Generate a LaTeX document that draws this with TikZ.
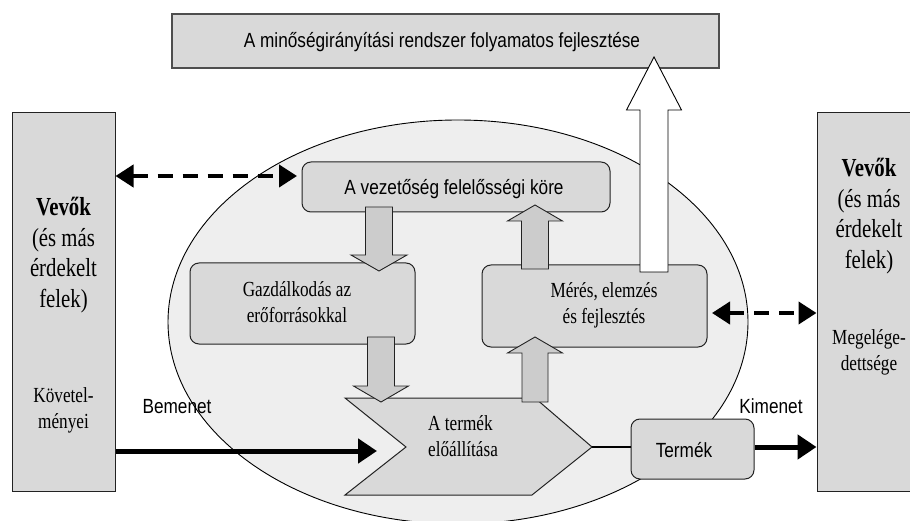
\documentclass[tikz,border=0pt]{standalone}
\usepackage{fontspec}
\setmainfont{Liberation Serif}[FakeStretch=0.8]
\newfontfamily\arialc{Liberation Sans}[FakeStretch=0.84]
\usetikzlibrary{arrows.meta,shapes.geometric}

\definecolor{boxgray}{HTML}{D9D9D9}
\definecolor{ovalgray}{HTML}{EEEEEE}
\definecolor{flowgray}{HTML}{CCCCCC}
\definecolor{edge}{HTML}{222222}

% broad block arrow: [style] x, tail y, head base y, tip y, half shaft, half head
\newcommand\flowarrow[7][]{%
  \filldraw[#1] (#2-#6,#3) -- (#2-#6,#4) -- (#2-#7,#4) -- (#2,#5)
    -- (#2+#7,#4) -- (#2+#6,#4) -- (#2+#6,#3) -- cycle;}

\tikzset{
  sidebox/.style={draw=edge, fill=boxgray, line width=1pt, inner sep=0pt},
  headbox/.style={draw=edge!80, fill=boxgray, line width=1.2pt, inner sep=0pt},
  procbox/.style={draw=edge, fill=boxgray, line width=1pt, rounded corners=9pt, inner sep=0pt},
  flowfill/.style={draw=edge, fill=flowgray, line width=0.9pt},
  bigarrow/.style={draw=black, fill=white, line width=0.9pt},
  sanslabel/.style={font=\arialc\fontsize{20.5}{24}\selectfont, inner sep=0pt, anchor=base},
  bigserif/.style={font=\fontsize{26}{30.5}\selectfont, align=center, inner sep=0pt},
  smallserif/.style={font=\fontsize{21.5}{26}\selectfont, align=center, inner sep=0pt},
  dasharrow/.style={{Triangle[length=18pt,width=22pt]}-{Triangle[length=18pt,width=22pt]},
    line width=4pt, dash pattern=on 15pt off 10pt},
  thickarrow/.style={-{Triangle[length=19pt,width=24pt]}, line width=5pt},
}

\begin{document}
\begin{tikzpicture}[x=1pt,y=-1pt]
\path[use as bounding box] (0,0) rectangle (910,521);

% organisation oval
\node[ellipse, draw=black, fill=ovalgray, line width=0.9pt, minimum width=580pt,
      minimum height=404pt, inner sep=0pt] (org) at (458,322) {};

% customers on both sides
\node[sidebox, minimum width=103pt, minimum height=378pt] (vevoL) at (63.5,302) {};
\node[sidebox, minimum width=104pt, minimum height=378pt] (vevoR) at (869,302) {};

% continual improvement banner
\node[headbox, minimum width=547pt, minimum height=54pt] (impr) at (445.5,41) {};
\node[sanslabel] (imprtxt) at (442,48) {A minőségirányítási rendszer folyamatos fejlesztése};

% process boxes
\node[procbox, minimum width=308pt, minimum height=50pt] (lead) at (456,187) {};
\node[sanslabel] (leadtxt) at (454,195) {A vezetőség felelősségi köre};
\node[procbox, minimum width=225pt, minimum height=81pt] (gazd) at (302.5,303.5) {};
\node[smallserif] (gazdtxt) at (297,302.5) {Gazdálkodás az\\erőforrásokkal};
\node[procbox, minimum width=225pt, minimum height=82pt] (meres) at (594.5,306) {};
\node[smallserif] (merestxt) at (604,305) {Mérés, elemzés\\és fejlesztés};

% product realisation chevron
\filldraw[draw=edge, fill=boxgray, line width=1pt]
  (345,398) -- (535,398) -- (592,447) -- (532,495) -- (345,495) -- (406,447) -- cycle;
\coordinate (prodtip) at (592,447);
\node[smallserif, align=left, anchor=west] (prod) at (428,436.5) {A termék\\előállítása};

% product box
\node[procbox, minimum width=123pt, minimum height=60pt] (termek) at (692.5,449) {};
\node[sanslabel] (termektxt) at (684,457) {Termék};

% flows between the processes
\flowarrow[flowfill]{379}{207}{255}{271}{13.5}{28}
\flowarrow[flowfill]{381}{337}{386}{402}{13.5}{27.5}
\flowarrow[flowfill]{535}{269}{221}{205}{13.5}{27.5}
\flowarrow[flowfill]{535}{402}{353}{337}{13}{27.5}
\flowarrow[bigarrow]{654}{272}{110}{57}{14}{27.5}

% customer texts
\node[bigserif] (vevoLtxt) at (63.5,255) {\textbf{Vevők}\\(és más\\érdekelt\\felek)};
\node[smallserif] (kovtxt) at (63.5,410) {Követel-\\ményei};
\node[bigserif] (vevoRtxt) at (869,216) {\textbf{Vevők}\\(és más\\érdekelt\\felek)};
\node[smallserif] (megtxt) at (869,352) {Megelége-\\dettsége};

% information exchange
\coordinate (dl) at (297,176);
\draw[dasharrow] (vevoL.east |- dl) -- (dl);
\coordinate (dr) at (712,313);
\draw[dasharrow] (dr) -- (vevoR.west |- dr);

% input and output
\coordinate (inEnd) at (377,451);
\draw[thickarrow] (vevoL.east |- inEnd) -- (inEnd);
\node[sanslabel] (bemenet) at (177,413) {Bemenet};
\draw[line width=1.3pt] (prodtip) -- (termek.west |- prodtip);
\draw[thickarrow] (termek.east |- prodtip) -- (vevoR.west |- prodtip);
\node[sanslabel] (kimenet) at (771,413) {Kimenet};
\end{tikzpicture}
\end{document}
